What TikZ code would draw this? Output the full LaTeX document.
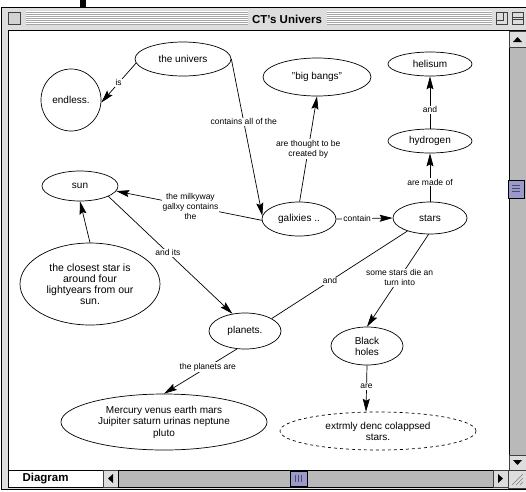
\documentclass[tikz,border=0pt]{standalone}
\usepackage{fontspec}
\setmainfont{Liberation Sans}
\usetikzlibrary{shapes.geometric,arrows.meta}
\definecolor{macgray}{RGB}{221,221,221}
\definecolor{trackgray}{RGB}{185,185,185}
\definecolor{thumbblue}{RGB}{153,153,204}
\newcommand\nodefont{\fontsize{10}{11}\selectfont}
\newcommand\relfont{\fontsize{8.5}{10}\selectfont}
\newcommand\chromefont{\bfseries\fontsize{11.5}{12}\selectfont}
\tikzset{
  concept/.style={ellipse, draw, line width=0.7pt, inner sep=0pt, align=center, font=\nodefont},
  rel/.style={fill=white, inner sep=1pt, align=center, font=\relfont},
  link/.style={line width=0.7pt},
  macbox/.style={draw=black!75, fill=macgray, line width=0.6pt},
}

\begin{document}
\begin{tikzpicture}[x=1pt,y=-1pt,>={Stealth[length=13pt,width=7pt,inset=2pt]}]
\useasboundingbox (0,0) rectangle (526,491);
	%fenetre
	\fill[white] (0,0) rectangle (526,491);
	\fill[black] (80,0) rectangle (86,7);
	\draw[fill=macgray, line width=0.8pt] (1,7) rectangle (530,489);
	%barre de titre
	\fill[white] (26,11) rectangle (248,25);
	\fill[white] (327,11) rectangle (492,25);
	\foreach \y in {12,14,...,24} {
		\draw[gray!70, line width=0.9pt] (26,\y) -- (248,\y);
		\draw[gray!70, line width=0.9pt] (327,\y) -- (492,\y);
	}
	\draw[macbox, fill=gray!35] (8,12) rectangle (20,24);
	\draw[macbox] (496,12) rectangle (507,24);
	\draw[black!75, line width=0.6pt] (496,20) -- (503,20) -- (503,12);
	\draw[macbox] (512,12) rectangle (523,24);
	\draw[black!75, line width=0.6pt] (512,17) -- (523,17) (512,19) -- (523,19);
	\node[font=\chromefont] (title) at (287,19) {CT's Univers};
	%zone du dessin
	\draw[fill=white, line width=1pt] (8,30) rectangle (509,470);
	%ascenseur vertical
	\draw[fill=trackgray, line width=0.8pt] (509,30) rectangle (527,470);
	\draw[macbox] (509,31) rectangle (527,47);
	\fill (513,42) -- (522,42) -- (517.5,37) -- cycle;
	\draw[macbox] (509,455) rectangle (527,470);
	\fill (513,460) -- (522,460) -- (517.5,465) -- cycle;
	\draw[fill=thumbblue, line width=0.8pt] (508,180) rectangle (524,198);
	\foreach \y in {185,188,191}
		\draw[thumbblue!50!black] (512,\y) -- (520,\y);
	%ascenseur horizontal
	\draw[fill=white, line width=0.8pt] (8,470) rectangle (103,487);
	\node[font=\chromefont, anchor=west] (tab) at (19,478.5) {Diagram};
	\draw[macbox] (103,470) rectangle (118,487);
	\fill (108,478.5) -- (113,474) -- (113,483) -- cycle;
	\draw[fill=trackgray, line width=0.8pt] (118,470) rectangle (493,487);
	\draw[fill=thumbblue, line width=0.8pt] (290,471) rectangle (307,486);
	\foreach \x in {295,298,301}
		\draw[thumbblue!50!black] (\x,475) -- (\x,482);
	\draw[macbox] (493,470) rectangle (508,487);
	\fill (503,478.5) -- (498,474) -- (498,483) -- cycle;
	\draw[macbox] (508,470) rectangle (527,488);
	\foreach \d in {0,4,8}
		\draw[gray] (512+\d,485) -- (523,474+\d);
	%fin

	%les concepts
	\node[concept, minimum width=96, minimum height=34] (univers) at (183,59) {the univers};
	\node[concept, minimum width=60, minimum height=62] (endless) at (71,100) {endless.};
	\node[concept, minimum width=108, minimum height=38] (bigbangs) at (317,77) {"big bangs"};
	\node[concept, minimum width=84, minimum height=24] (helisum) at (430,64) {helisum};
	\node[concept, minimum width=84, minimum height=24] (hydrogen) at (430,141) {hydrogen};
	\node[concept, minimum width=74, minimum height=32] (stars) at (430,218) {stars};
	\node[concept, minimum width=74, minimum height=34] (galixies) at (299,219) {galixies ..};
	\node[concept, minimum width=76, minimum height=30] (sun) at (80,186) {sun};
	\node[concept, minimum width=140, minimum height=82, font=\fontsize{10.5}{11}\selectfont] (closest) at (90,284)
		{the closest star is\\around four\\lightyears from our\\sun.};
	\node[concept, minimum width=72, minimum height=36] (planets) at (245,331) {planets.};
	\node[concept, minimum width=72, minimum height=38] (blackholes) at (367,346) {Black\\holes};
	\node[concept, minimum width=206, minimum height=56, font=\fontsize{10}{11.5}\selectfont] (mercury) at (164,422)
		{Mercury venus earth mars\\Juipiter saturn urinas neptune\\pluto};
	\node[concept, dashed, minimum width=196, minimum height=38] (dense) at (378,431)
		{extrmly denc colappsed\\stars.};

	%les liens
	\draw[link,->] (univers.185) -- (endless.-5) node[rel, pos=0.5] {is};
	\draw[link,->] (univers.east) -- (galixies.175) node[rel, pos=0.4] {contains all of the};
	\draw[link,->] (galixies.88) -- (bigbangs.south) node[rel, pos=0.5] {are thought to be\\created by};
	\draw[link,->] (galixies.east) -- (stars.west) node[rel, pos=0.37] {contain};
	\draw[link,->] (stars.north) -- (hydrogen.south) node[rel, pos=0.4] {are made of};
	\draw[link,->] (hydrogen.north) -- (helisum.south) node[rel, pos=0.36] {and};
	\draw[link,->] (galixies.182) -- (sun.-8) node[rel, pos=0.49] {the milkyway\\gallxy contains\\the};
	\draw[link,->] (closest.north) -- (sun.south);
	\draw[link,->] (sun.-20) -- (planets.126) node[rel, pos=0.48] {and its};
	\draw[link] (stars.210) -- (planets.25) node[rel, pos=0.57] {and};
	\draw[link,->] (stars.-95) -- (blackholes.north) node[rel, pos=0.47] {some stars die an\\turn into};
	\draw[link,->] (blackholes.south) -- (dense.122) node[rel, pos=0.45] {are};
	\draw[link,->] (planets.-114) -- (mercury.north) node[rel, pos=0.4] {the planets are};
\end{tikzpicture}
\end{document}
